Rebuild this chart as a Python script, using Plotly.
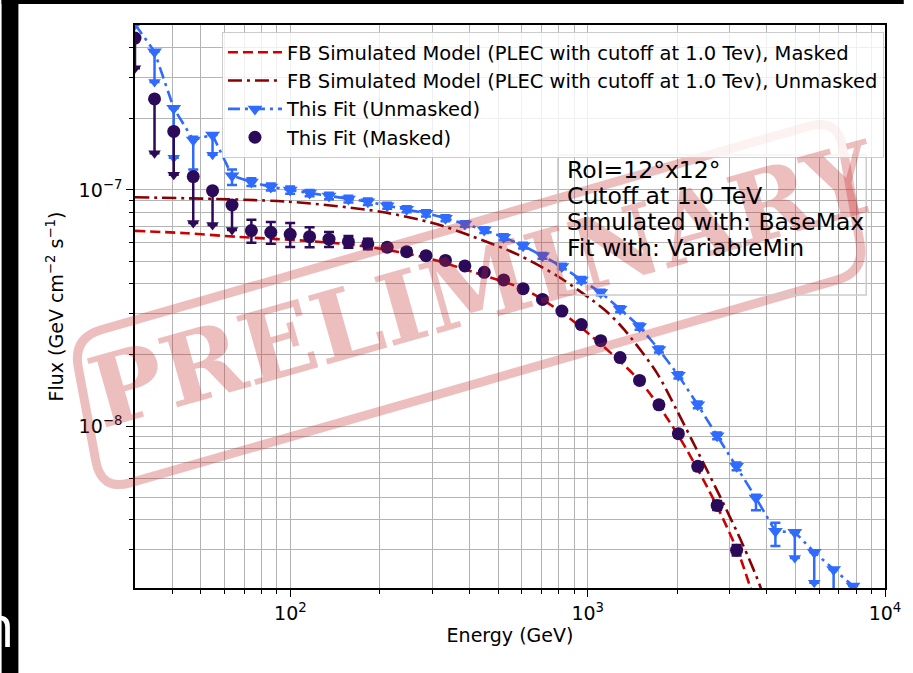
import math
import plotly.graph_objects as go

# ---------------- data ----------------
energy_gev = [30.0, 34.9, 40.5, 47.1, 54.7, 63.6, 73.9, 85.9, 99.8, 116.0,
              134.8, 156.7, 182.1, 211.6, 245.9, 285.8, 332.2, 386.1, 448.7, 521.5,
              606.1, 704.4, 818.7, 951.5, 1106, 1285, 1494, 1736, 2018, 2345,
              2725, 3168, 3681, 4279, 4973, 5780, 6717, 7807]

# This Fit (Unmasked)
unmasked_flux = [5.04e-7, 3.85e-7, 2.22e-7, 1.63e-7, 1.71e-7, 1.15e-7, 1.08e-7, 1.03e-7, 1.00e-7, 9.71e-8,
                 9.43e-8, 9.16e-8, 8.92e-8, 8.58e-8, 8.29e-8, 7.97e-8, 7.59e-8, 7.18e-8, 6.77e-8, 6.31e-8,
                 5.81e-8, 5.26e-8, 4.74e-8, 4.16e-8, 3.68e-8, 3.13e-8, 2.64e-8, 2.11e-8, 1.64e-8, 1.23e-8,
                 9.10e-9, 6.75e-9, 4.96e-9, 3.58e-9, 3.55e-9, 2.92e-9, 2.47e-9, 2.10e-9]
unmasked_err_hi = [0, 0, 0, 5e-9, 0, 7e-9, 4e-9, 3.5e-9, 3.5e-9, 3e-9,
                   3e-9, 3e-9, 2.8e-9, 2.6e-9, 2.5e-9, 2.4e-9, 2.2e-9, 2e-9, 1.9e-9, 1.8e-9,
                   1.6e-9, 1.5e-9, 1.3e-9, 1.2e-9, 1.0e-9, 0.9e-9, 0.8e-9, 0.6e-9, 0.5e-9, 0.4e-9,
                   0.3e-9, 0.25e-9, 0.16e-9, 0.31e-9, 0, 0, 0, 0]
unmasked_err_lo = [0, 9.8e-8, 8.5e-8, 4.1e-8, 3.0e-8, 1.0e-8, 4e-9, 3.5e-9, 3.5e-9, 3e-9,
                   3e-9, 3e-9, 2.8e-9, 2.6e-9, 2.5e-9, 2.4e-9, 2.2e-9, 2e-9, 1.9e-9, 1.8e-9,
                   1.6e-9, 1.5e-9, 1.3e-9, 1.2e-9, 1.0e-9, 0.9e-9, 0.8e-9, 0.6e-9, 0.5e-9, 0.4e-9,
                   0.3e-9, 0.25e-9, 0.56e-9, 0.48e-9, 7.9e-10, 7.5e-10, 6.7e-10, 0]
unmasked_is_ul = [False, True, True, False, True, False, False, False, False, False,
                  False, False, False, False, False, False, False, False, False, False,
                  False, False, False, False, False, False, False, False, False, False,
                  False, False, False, False, True, True, True, False]

# This Fit (Masked)
masked_flux = [4.40e-7, 2.43e-7, 1.77e-7, 1.14e-7, 9.93e-8, 8.64e-8, 6.73e-8, 6.62e-8, 6.49e-8, 6.34e-8,
               6.19e-8, 6.04e-8, 5.91e-8, 5.72e-8, 5.48e-8, 5.27e-8, 5.03e-8, 4.77e-8, 4.48e-8, 4.16e-8,
               3.82e-8, 3.44e-8, 3.07e-8, 2.69e-8, 2.30e-8, 1.95e-8, 1.56e-8, 1.23e-8, 9.28e-9, 6.75e-9,
               4.61e-9, 2.98e-9]
masked_err_hi = [0, 0, 0, 0, 0, 0, 7.5e-9, 7e-9, 7.5e-9, 6.2e-9,
                 4.5e-9, 3.5e-9, 3e-9, 2e-9, 1.8e-9, 1.6e-9, 1.4e-9, 1.3e-9, 1.2e-9, 1.1e-9,
                 1.0e-9, 0.9e-9, 0.8e-9, 0.7e-9, 0.6e-9, 0.5e-9, 0.45e-9, 0.4e-9, 0.3e-9, 0.25e-9,
                 0.2e-9, 0.15e-9]
masked_err_lo = [1.12e-7, 1.00e-7, 6.1e-8, 4.15e-8, 2.82e-8, 1.87e-8, 7.5e-9, 7e-9, 7.5e-9, 6.2e-9,
                 4.5e-9, 3.5e-9, 3e-9, 2e-9, 1.8e-9, 1.6e-9, 1.4e-9, 1.3e-9, 1.2e-9, 1.1e-9,
                 1.0e-9, 0.9e-9, 0.8e-9, 0.7e-9, 0.6e-9, 0.5e-9, 0.45e-9, 0.4e-9, 0.3e-9, 0.25e-9,
                 0.2e-9, 0.15e-9]
masked_is_ul = [True, True, True, True, True, True, False, False, False, False,
                False, False, False, False, False, False, False, False, False, False,
                False, False, False, False, False, False, False, False, False, False,
                False, False]

# FB simulated PLEC model curves
model_masked_energy = [30, 44.7, 65.5, 123.9, 181.6, 287, 421, 618, 820, 1113,
                       1512, 1991, 2447, 2788, 3248, 3507, 3643]
model_masked_flux = [6.71e-8, 6.56e-8, 6.34e-8, 6.04e-8, 5.75e-8, 5.16e-8, 4.45e-8, 3.77e-8, 3.02e-8, 2.21e-8,
                     1.53e-8, 9.37e-9, 5.93e-9, 4.30e-9, 2.80e-9, 2.11e-9, 1.84e-9]
model_unmasked_energy = [30, 98.5, 200.6, 303, 412, 585, 795, 1139, 1327, 1708,
                         1991, 2319, 2788, 3323, 3815, 4100]
model_unmasked_flux = [9.31e-8, 8.92e-8, 8.09e-8, 7.23e-8, 6.34e-8, 5.31e-8, 4.30e-8, 3.11e-8, 2.56e-8, 1.68e-8,
                       1.17e-8, 8.01e-9, 5.02e-9, 3.15e-9, 2.07e-9, 1.50e-9]

x_tick_values = [100, 1000, 10000]
x_tick_labels = ["10<sup>2</sup>", "10<sup>3</sup>", "10<sup>4</sup>"]
x_minor_values = [40, 50, 60, 70, 80, 90, 200, 300, 400, 500, 600, 700, 800, 900,
                  2000, 3000, 4000, 5000, 6000, 7000, 8000, 9000]
y_tick_values = [1e-8, 1e-7]
y_tick_labels = ["10<sup>\u22128</sup>", "10<sup>\u22127</sup>"]
y_minor_values = [3e-9, 4e-9, 5e-9, 6e-9, 7e-9, 8e-9, 9e-9,
                  2e-8, 3e-8, 4e-8, 5e-8, 6e-8, 7e-8, 8e-8, 9e-8,
                  2e-7, 3e-7, 4e-7]

info_lines = ["RoI=12\u00b0x12\u00b0", "Cutoff at 1.0 TeV",
              "Simulated with: BaseMax", "Fit with: VariableMin"]

name_model_masked = "FB Simulated Model (PLEC with cutoff at 1.0 Tev), Masked"
name_model_unmasked = "FB Simulated Model (PLEC with cutoff at 1.0 Tev), Unmasked"
name_fit_unmasked = "This Fit (Unmasked)"
name_fit_masked = "This Fit (Masked)"

# ---------------- styling ----------------
W, H = 913, 673
ML, MR, MT, MB = 135, 19, 25, 85
PW, PH = W - ML - MR, H - MT - MB

RED = "#cc0000"
DARK_RED = "#8b0000"
BLUE = "#2f6bff"
PURPLE = "#2c0a5a"
GRID = "#b4b4b4"
FONT = "DejaVu Sans"
STAMP = "rgba(195,40,40,0.30)"


def px(x):
    """page pixel x -> paper x"""
    return (x - ML) / PW


def py(y):
    """page pixel y (from top) -> paper y"""
    return (H - MB - y) / PH


def rounded_path(corners, r):
    pts = []
    n = len(corners)
    for i in range(n):
        cx, cy = corners[i]
        ax, ay = corners[i - 1]
        bx, by = corners[(i + 1) % n]
        la = math.hypot(ax - cx, ay - cy)
        lb = math.hypot(bx - cx, by - cy)
        p1 = (cx + r * (ax - cx) / la, cy + r * (ay - cy) / la)
        p2 = (cx + r * (bx - cx) / lb, cy + r * (by - cy) / lb)
        pts.append((p1, (cx, cy), p2))
    f = lambda p: f"{px(p[0]):.5f},{py(p[1]):.5f}"
    d = f"M {f(pts[0][0])} Q {f(pts[0][1])} {f(pts[0][2])}"
    for p1, c, p2 in pts[1:]:
        d += f" L {f(p1)} Q {f(c)} {f(p2)}"
    d += f" L {f(pts[0][0])} Z"
    return d


def ul_points(energy, flux, err_lo, is_ul):
    xs, ys = [], []
    for e, v, lo, u in zip(energy, flux, err_lo, is_ul):
        if u:
            xs.append(e)
            ys.append(v - lo)
    return xs, ys


fig = go.Figure()

fig.add_trace(go.Scatter(
    x=model_masked_energy, y=model_masked_flux, mode="lines", name=name_model_masked,
    line=dict(color=RED, width=2.6, dash="10px,5px", shape="spline", smoothing=0.8),
))
fig.add_trace(go.Scatter(
    x=model_unmasked_energy, y=model_unmasked_flux, mode="lines", name=name_model_unmasked,
    line=dict(color=DARK_RED, width=2.6, dash="14px,5px,3px,5px", shape="spline", smoothing=0.8),
))

fig.add_trace(go.Scatter(
    x=energy_gev, y=unmasked_flux, mode="lines+markers", name=name_fit_unmasked,
    line=dict(color=BLUE, width=2.6, dash="12px,5px,3px,5px"),
    marker=dict(symbol="triangle-down", size=13, color=BLUE),
    error_y=dict(type="data", symmetric=False, array=unmasked_err_hi, arrayminus=unmasked_err_lo,
                 color=BLUE, thickness=2.5, width=5),
))
ux, uy = ul_points(energy_gev, unmasked_flux, unmasked_err_lo, unmasked_is_ul)
fig.add_trace(go.Scatter(
    x=ux, y=uy, mode="markers", showlegend=False, hoverinfo="skip",
    marker=dict(symbol="triangle-down", size=11, color=BLUE),
))

fig.add_trace(go.Scatter(
    x=energy_gev[:len(masked_flux)], y=masked_flux, mode="markers", name=name_fit_masked,
    marker=dict(symbol="circle", size=13, color=PURPLE),
    error_y=dict(type="data", symmetric=False, array=masked_err_hi, arrayminus=masked_err_lo,
                 color=PURPLE, thickness=2.5, width=5),
))
mx, my = ul_points(energy_gev, masked_flux, masked_err_lo, masked_is_ul)
fig.add_trace(go.Scatter(
    x=mx, y=my, mode="markers", showlegend=False, hoverinfo="skip",
    marker=dict(symbol="triangle-down", size=11, color=PURPLE),
))

axis_common = dict(
    type="log", showline=True, linecolor="black", linewidth=1.6, mirror=True,
    ticks="outside", ticklen=7, tickwidth=1.4, tickcolor="black",
    showgrid=True, gridcolor=GRID, gridwidth=1.3, zeroline=False,
    tickfont=dict(family=FONT, size=19, color="black"),
)

fig.update_xaxes(
    **axis_common,
    range=[math.log10(30), 4],
    tickmode="array", tickvals=x_tick_values, ticktext=x_tick_labels,
    minor=dict(tickmode="array", tickvals=x_minor_values, ticks="outside", ticklen=4,
               tickwidth=1.1, tickcolor="black", showgrid=True, gridcolor=GRID, gridwidth=1.3),
    title=dict(text="Energy (GeV)", font=dict(family=FONT, size=19, color="black"), standoff=6),
)
fig.update_yaxes(
    **axis_common,
    range=[math.log10(2.06e-9), math.log10(5.0e-7)],
    tickmode="array", tickvals=y_tick_values, ticktext=y_tick_labels,
    minor=dict(tickmode="array", tickvals=y_minor_values, ticks="outside", ticklen=4,
               tickwidth=1.1, tickcolor="black", showgrid=True, gridcolor=GRID, gridwidth=1.3),
    title=dict(text="Flux (GeV cm<sup>\u22122</sup> s<sup>\u22121</sup>)",
               font=dict(family=FONT, size=19, color="black"), standoff=10),
)

shapes = [
    # dark surround of the slide
    dict(type="rect", xref="paper", yref="paper", x0=px(0), x1=px(17), y0=py(H), y1=py(0),
         fillcolor="black", line=dict(width=0), layer="above"),
    dict(type="rect", xref="paper", yref="paper", x0=px(0), x1=px(W), y0=py(4), y1=py(0),
         fillcolor="black", line=dict(width=0), layer="above"),
    # stamp frame
    dict(type="path", xref="paper", yref="paper",
         path=rounded_path([(72, 338), (846, 118), (874, 272), (101, 491)], 30),
         line=dict(color=STAMP, width=9), fillcolor="rgba(0,0,0,0)", layer="above"),
    # info box frame
    dict(type="rect", xref="paper", yref="paper", x0=px(563), x1=px(875), y0=py(295), y1=py(155),
         line=dict(color="#cccccc", width=1.5), fillcolor="rgba(0,0,0,0)", layer="above"),
]

annotations = [
    dict(text="<b>PRELIMINARY</b>", xref="paper", yref="paper", x=px(488), y=py(284),
         xanchor="center", yanchor="middle", showarrow=False, textangle=-15.8,
         font=dict(family="DejaVu Serif", size=98, color=STAMP)),
    dict(text="n", xref="paper", yref="paper", x=px(16), y=py(624), xanchor="right", yanchor="middle",
         showarrow=False, font=dict(family="Open Sans", size=58, color="white")),
]
for i, line in enumerate(info_lines):
    annotations.append(dict(
        text=line, xref="paper", yref="paper", x=px(570), y=py(170 + 26.1 * i),
        xanchor="left", yanchor="middle", showarrow=False,
        font=dict(family=FONT, size=23.5, color="black"),
    ))

fig.update_layout(
    width=W, height=H, autosize=False,
    margin=dict(l=ML, r=MR, t=MT, b=MB, pad=0),
    paper_bgcolor="white", plot_bgcolor="white",
    font=dict(family=FONT, color="black"),
    shapes=shapes, annotations=annotations,
    legend=dict(
        x=px(223), y=py(32), xanchor="left", yanchor="top",
        bgcolor="rgba(255,255,255,0.8)", bordercolor="#cccccc", borderwidth=1,
        font=dict(family=FONT, size=19.5, color="black"),
        itemwidth=54, tracegroupgap=0,
    ),
)

fig.write_html("out.html")
